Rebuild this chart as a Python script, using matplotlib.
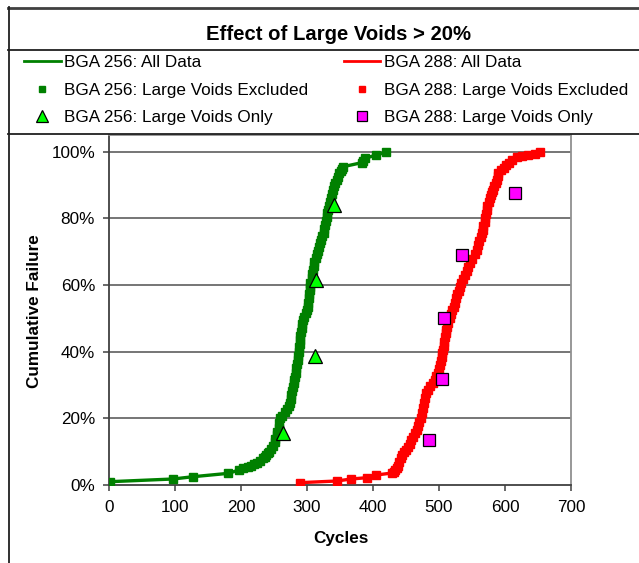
import matplotlib
matplotlib.use("Agg")
import matplotlib.pyplot as plt
from matplotlib.lines import Line2D
from matplotlib.ticker import PercentFormatter

plt.rcParams['font.family'] = ['Liberation Sans', 'DejaVu Sans']

# ---------------- data ----------------
title = "Effect of Large Voids > 20%"
x_label = "Cycles"
y_label = "Cumulative Failure"
x_ticks = [0, 100, 200, 300, 400, 500, 600, 700]
y_ticks = [0.0, 0.2, 0.4, 0.6, 0.8, 1.0]

# BGA 256 (all data line / large voids excluded markers): (cycles, cumulative failure)
g_pts = [(2, 0.010), (97, 0.018), (128, 0.025), (181, 0.035), (197, 0.045), (203, 0.050), (210, 0.054),
         (215, 0.058), (220, 0.062), (224, 0.066), (229, 0.072), (233, 0.080), (236, 0.085), (238, 0.090),
         (241, 0.095), (243, 0.100), (246, 0.108), (248, 0.117), (251, 0.128), (252, 0.138), (254, 0.150),
         (255, 0.160), (257, 0.172), (258, 0.185), (259, 0.200), (262, 0.208), (266, 0.218), (270, 0.228),
         (272, 0.236), (274, 0.246), (275, 0.258), (276, 0.270), (278, 0.282), (279, 0.295), (280, 0.305),
         (281, 0.315), (282, 0.325), (283, 0.337), (284, 0.350), (285, 0.362), (286, 0.374), (287, 0.388),
         (288, 0.400), (288, 0.413), (289, 0.424), (289, 0.435), (290, 0.447), (291, 0.458), (292, 0.470),
         (293, 0.482), (294, 0.495), (296, 0.505), (298, 0.515), (300, 0.525), (301, 0.535), (302, 0.547),
         (303, 0.560), (303, 0.572), (304, 0.584), (304, 0.595), (305, 0.607), (307, 0.620), (308, 0.633),
         (309, 0.645), (310, 0.657), (311, 0.668), (313, 0.680), (315, 0.692), (317, 0.703), (318, 0.714),
         (320, 0.725), (321, 0.735), (323, 0.746), (325, 0.757), (326, 0.768), (327, 0.780), (329, 0.792),
         (330, 0.805), (331, 0.815), (332, 0.826), (333, 0.838), (335, 0.850), (336, 0.862), (338, 0.874),
         (340, 0.886), (341, 0.896), (343, 0.906), (345, 0.916), (347, 0.925), (349, 0.935), (351, 0.942),
         (353, 0.948), (355, 0.955), (383, 0.967), (385, 0.972), (388, 0.980), (405, 0.990), (419, 0.998)]
g_x = [p[0] for p in g_pts]
g_y = [p[1] for p in g_pts]

# BGA 256 large voids only
gv_x = [263, 312, 314, 341]
gv_y = [0.157, 0.388, 0.614, 0.840]

# BGA 288 (all data line / large voids excluded markers)
r_pts = [(289, 0.007), (345, 0.012), (367, 0.018), (391, 0.022), (405, 0.030), (429, 0.036), (432, 0.040),
         (434, 0.045), (436, 0.050), (438, 0.058), (440, 0.068), (442, 0.080), (444, 0.090), (447, 0.098),
         (450, 0.105), (453, 0.114), (456, 0.124), (458, 0.135), (461, 0.145), (464, 0.156), (466, 0.166),
         (468, 0.177), (470, 0.188), (472, 0.200), (474, 0.216), (476, 0.230), (478, 0.245), (479, 0.260),
         (481, 0.276), (484, 0.286), (487, 0.296), (491, 0.306), (494, 0.316), (496, 0.326), (498, 0.336),
         (500, 0.348), (502, 0.360), (503, 0.372), (504, 0.385), (505, 0.395), (506, 0.405), (507, 0.418),
         (508, 0.430), (509, 0.443), (510, 0.455), (511, 0.465), (512, 0.475), (514, 0.487), (516, 0.500),
         (518, 0.512), (520, 0.524), (522, 0.535), (524, 0.547), (526, 0.560), (528, 0.572), (530, 0.583),
         (532, 0.595), (534, 0.606), (537, 0.618), (540, 0.630), (542, 0.642), (544, 0.655), (547, 0.666),
         (550, 0.678), (554, 0.692), (557, 0.706), (559, 0.720), (561, 0.733), (563, 0.745), (565, 0.756),
         (566, 0.766), (567, 0.778), (569, 0.790), (570, 0.802), (571, 0.814), (572, 0.826), (573, 0.836),
         (575, 0.848), (577, 0.860), (579, 0.870), (581, 0.880), (582, 0.886), (584, 0.896), (586, 0.906),
         (588, 0.916), (589, 0.926), (590, 0.937), (594, 0.945), (598, 0.952), (602, 0.960), (606, 0.966),
         (611, 0.975), (618, 0.984), (625, 0.988), (635, 0.990), (645, 0.994), (653, 0.998)]
r_x = [p[0] for p in r_pts]
r_y = [p[1] for p in r_pts]

# BGA 288 large voids only
rv_x = [485, 505, 507, 535, 615]
rv_y = [0.135, 0.318, 0.502, 0.689, 0.876]

labels = ["BGA 256: All Data", "BGA 256: Large Voids Excluded", "BGA 256: Large Voids Only",
          "BGA 288: All Data", "BGA 288: Large Voids Excluded", "BGA 288: Large Voids Only"]

# ---------------- figure ----------------
W, H = 639, 563
fig = plt.figure(figsize=(W / 100, H / 100), dpi=100)

def fx(px):
    return px / W

def fy(py):
    return 1 - py / H

ax = fig.add_axes([fx(109), fy(485), fx(571) - fx(109), fy(135) - fy(485)])

GREEN = "#008000"
RED = "#FF0000"

ax.plot(g_x, g_y, color=GREEN, lw=2.4, zorder=3)
ax.plot(g_x, g_y, ls='none', marker='s', ms=6, color=GREEN, zorder=4)
ax.plot(gv_x, gv_y, ls='none', marker='^', ms=10, markerfacecolor="#00FF00",
        markeredgecolor="black", markeredgewidth=0.9, zorder=6)

ax.plot(r_x, r_y, color=RED, lw=2.4, zorder=3)
ax.plot(r_x, r_y, ls='none', marker='s', ms=6, color=RED, zorder=4)
ax.plot(rv_x, rv_y, ls='none', marker='s', ms=8.5, markerfacecolor="#FF00FF",
        markeredgecolor="black", markeredgewidth=0.9, zorder=6)

ax.set_xlim(0, 700)
ax.set_ylim(0, 1.05)
ax.set_xticks(x_ticks)
ax.set_yticks(y_ticks)
ax.yaxis.set_major_formatter(PercentFormatter(1.0, decimals=0))

for y in y_ticks[1:]:
    ax.axhline(y, color="#505050", lw=1.1, zorder=1)

for s in ['left', 'bottom']:
    ax.spines[s].set_color("#404040")
    ax.spines[s].set_linewidth(1.3)
for s in ['top', 'right']:
    ax.spines[s].set_color("#909090")
    ax.spines[s].set_linewidth(1.3)

ax.tick_params(axis='both', direction='out', length=4.5, width=1.1, color="#404040",
               labelsize=12.3, pad=5.5)
ax.tick_params(axis='x', pad=6)

ax.set_xlabel(x_label, fontsize=12.3, fontweight='bold')
ax.set_ylabel(y_label, fontsize=12.3, fontweight='bold')
ax.xaxis.set_label_coords(0.502, -0.13)
ax.yaxis.set_label_coords(-0.146, 0.497)

# ---------------- title / frame ----------------
fig.text(fx(338), fy(35), title, ha='center', va='center', fontsize=14.6, fontweight='bold')

def hline(py, x0, x1, color="#303030", lw=1.3):
    fig.add_artist(Line2D([fx(x0), fx(x1)], [fy(py), fy(py)], transform=fig.transFigure,
                          color=color, lw=lw))

def vline(px, y0, y1, color="#303030", lw=1.3):
    fig.add_artist(Line2D([fx(px), fx(px)], [fy(y0), fy(y1)], transform=fig.transFigure,
                          color=color, lw=lw))

hline(7.5, 8, W, color="#404040", lw=2)
vline(8.5, 7, H, color="#202020", lw=1.3)
hline(50, 8, W, color="#202020", lw=1.3)
hline(133.5, 8, W, color="#202020", lw=1.3)

# ---------------- legend ----------------
handles = [
    Line2D([], [], color=GREEN, lw=2.0),
    Line2D([], [], ls='none', marker='s', ms=5, color=GREEN),
    Line2D([], [], ls='none', marker='^', ms=8, markerfacecolor="#00FF00",
           markeredgecolor="black", markeredgewidth=0.9),
    Line2D([], [], color=RED, lw=2.0),
    Line2D([], [], ls='none', marker='s', ms=5, color=RED),
    Line2D([], [], ls='none', marker='s', ms=7, markerfacecolor="#FF00FF",
           markeredgecolor="black", markeredgewidth=0.9),
]
fig.legend(handles, labels, ncol=2, loc='upper left', bbox_to_anchor=(fx(24), fy(55)),
           frameon=False, fontsize=12.3, handlelength=2.15, handletextpad=0.22,
           columnspacing=2.05, labelspacing=0.74, borderpad=0, borderaxespad=0)

fig.savefig("out.png", dpi=100)
